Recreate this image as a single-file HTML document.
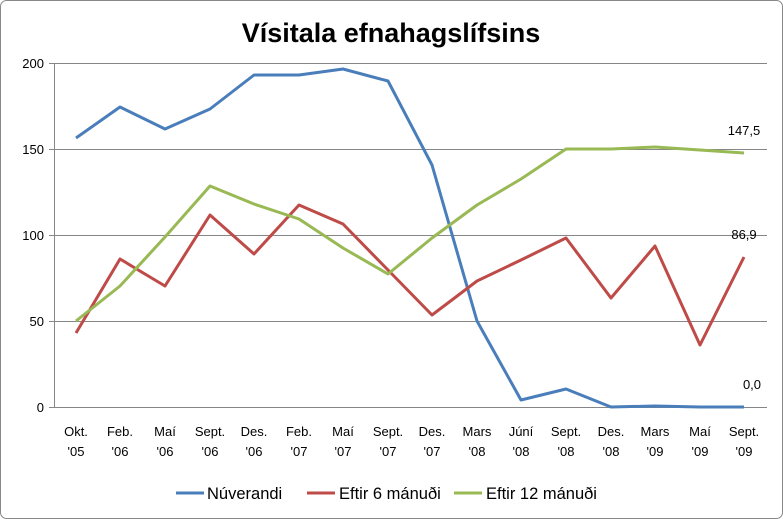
<!DOCTYPE html>
<html><head><meta charset="utf-8"><style>
html,body{margin:0;padding:0;background:#fff}
svg{display:block;font-family:"Liberation Sans",sans-serif}
</style></head><body>
<svg width="783" height="519" viewBox="0 0 783 519" xmlns="http://www.w3.org/2000/svg">
<rect x="0.5" y="0.5" width="782" height="518" rx="6" fill="#fff" stroke="#888"/>
<text x="391" y="42" text-anchor="middle" font-size="27" font-weight="bold" fill="#000">Vísitala efnahagslífsins</text>
<g stroke="#868686" stroke-width="1">
<line x1="54" y1="63.5" x2="767" y2="63.5"/>
<line x1="54" y1="149.5" x2="767" y2="149.5"/>
<line x1="54" y1="235.5" x2="767" y2="235.5"/>
<line x1="54" y1="321.5" x2="767" y2="321.5"/>
<line x1="54" y1="407.5" x2="767" y2="407.5"/>
<line x1="54.5" y1="63" x2="54.5" y2="407"/>
<line x1="49" y1="63.5" x2="54" y2="63.5"/><line x1="49" y1="149.5" x2="54" y2="149.5"/><line x1="49" y1="235.5" x2="54" y2="235.5"/><line x1="49" y1="321.5" x2="54" y2="321.5"/><line x1="49" y1="407.5" x2="54" y2="407.5"/>
</g>
<g font-size="13" fill="#000" text-anchor="end">
<text x="44" y="68">200</text><text x="44" y="154">150</text><text x="44" y="240">100</text><text x="44" y="326">50</text><text x="44" y="412">0</text>
</g>
<g font-size="13" fill="#000" text-anchor="middle">
<text x="76" y="436">Okt.</text><text x="76" y="456">'05</text>
<text x="120" y="436">Feb.</text><text x="120" y="456">'06</text>
<text x="165" y="436">Maí</text><text x="165" y="456">'06</text>
<text x="210" y="436">Sept.</text><text x="210" y="456">'06</text>
<text x="254" y="436">Des.</text><text x="254" y="456">'06</text>
<text x="299" y="436">Feb.</text><text x="299" y="456">'07</text>
<text x="343" y="436">Maí</text><text x="343" y="456">'07</text>
<text x="388" y="436">Sept.</text><text x="388" y="456">'07</text>
<text x="432" y="436">Des.</text><text x="432" y="456">'07</text>
<text x="477" y="436">Mars</text><text x="477" y="456">'08</text>
<text x="521" y="436">Júní</text><text x="521" y="456">'08</text>
<text x="566" y="436">Sept.</text><text x="566" y="456">'08</text>
<text x="611" y="436">Des.</text><text x="611" y="456">'08</text>
<text x="655" y="436">Mars</text><text x="655" y="456">'09</text>
<text x="700" y="436">Maí</text><text x="700" y="456">'09</text>
<text x="744" y="436">Sept.</text><text x="744" y="456">'09</text>
</g>
<g fill="none" stroke-width="3" stroke-linejoin="round">
<polyline stroke="#4a7ebb" points="76,138 120,107 165,129 210,109 254,75 299,75 343,69 388,81 432,165 477,321 521,400 566,389 611,407 655,406 700,407 744,407"/>
<polyline stroke="#be4b48" points="76,333 120,259 165,286 210,215 254,254 299,205 343,224 388,270 432,315 477,281 521,260 566,238 611,298 655,246 700,345 744,257"/>
<polyline stroke="#98b954" points="76,321 120,286 165,237 210,186 254,204 299,219 343,248 388,274 432,238 477,205 521,179 566,149 611,149 655,147 700,150 744,153"/>
</g>
<g font-size="13" fill="#000" text-anchor="middle">
<text x="744" y="135">147,5</text>
<text x="744" y="239">86,9</text>
<text x="752" y="389">0,0</text>
</g>
<g stroke-width="3">
<line x1="176" y1="493" x2="204" y2="493" stroke="#4a7ebb"/>
<line x1="307" y1="493" x2="335" y2="493" stroke="#be4b48"/>
<line x1="454" y1="493" x2="482" y2="493" stroke="#98b954"/>
</g>
<g font-size="16.5" fill="#000">
<text x="207" y="499">Núverandi</text>
<text x="339" y="499">Eftir 6 mánuði</text>
<text x="486" y="499">Eftir 12 mánuði</text>
</g>
</svg>
</body></html>
